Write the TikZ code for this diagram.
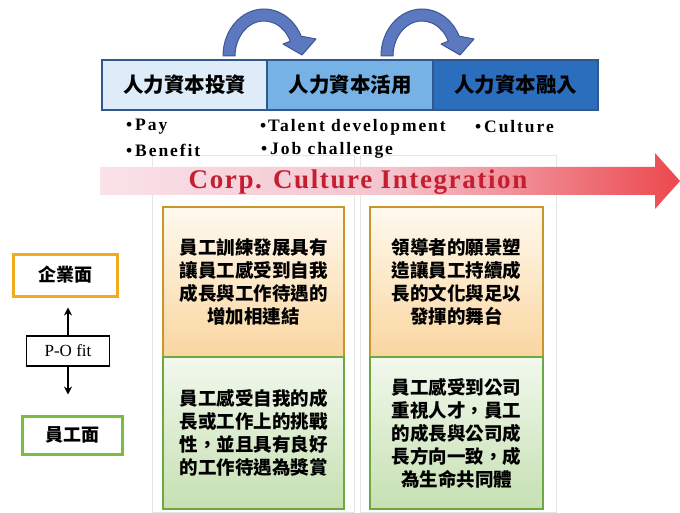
\documentclass[tikz,border=0pt]{standalone}
\usepackage{fontspec}
\setmainfont{Liberation Serif}
\newfontfamily\cjk{Noto Sans CJK TC}
\newfontfamily\bul{Liberation Serif}[LetterSpace=11]
\newfontfamily\banfont{Liberation Serif}[LetterSpace=6]
\usetikzlibrary{shadings,arrows.meta}
\definecolor{segA}{RGB}{221,236,248}
\definecolor{segB}{RGB}{118,178,230}
\definecolor{segC}{RGB}{44,110,190}
\definecolor{segLine}{RGB}{48,88,140}
\definecolor{arcFill}{RGB}{92,120,190}
\definecolor{arcLine}{RGB}{62,88,150}
\definecolor{pinkL}{RGB}{250,226,233}
\definecolor{pinkM}{RGB}{244,196,206}
\definecolor{redR}{RGB}{236,72,78}
\definecolor{bannerText}{RGB}{196,30,48}
\definecolor{oLine}{RGB}{200,150,42}
\definecolor{oTop}{RGB}{255,249,238}
\definecolor{oBot}{RGB}{250,214,160}
\definecolor{gLine}{RGB}{108,168,70}
\definecolor{gTop}{RGB}{242,248,237}
\definecolor{gBot}{RGB}{198,224,178}
\definecolor{corpLine}{RGB}{240,172,30}
\definecolor{empLine}{RGB}{120,190,60}
\tikzset{
  seg/.style={draw=segLine, line width=1.5pt, minimum height=50pt, inner sep=0pt,
    font=\cjk\bfseries\fontsize{20.5}{23}\selectfont},
  bullet/.style={anchor=west, inner sep=0pt, font=\bul\bfseries\fontsize{17.5}{20}\selectfont},
  boxtext/.style={align=center, inner sep=0pt, font=\cjk\bfseries\fontsize{18.5}{23}\selectfont},
  obox/.style={boxtext, draw=oLine, line width=2pt, top color=oTop, bottom color=oBot},
  gbox/.style={boxtext, draw=gLine, line width=2pt, top color=gTop, bottom color=gBot},
  sidebox/.style={line width=3pt, fill=white, inner sep=0pt, minimum height=42pt,
    font=\cjk\bfseries\fontsize{18}{20}\selectfont},
  arcarrow/.style={fill=arcFill, draw=arcLine, line width=1pt, line join=round},
  panel/.style={draw=black!10, line width=0.6pt},
  poarrow/.style={-{Stealth[length=8pt,width=8pt]}, line width=2pt},
}
\begin{document}
\begin{tikzpicture}[x=1pt,y=-1pt]
\useasboundingbox (0,0) rectangle (680,513);
% faint background panels
\draw[panel] (152,155) rectangle (354,512);
\draw[panel] (360,155) rectangle (556,512);
% curved arrows
\foreach \dx in {0,158}{
  \begin{scope}[xshift=\dx pt]
  \path[arcarrow] (223,56) arc[start angle=180, end angle=335, x radius=41, y radius=47]
     -- (316,39) -- (302,55) -- (283,44) -- (290.3,41.2)
     arc[start angle=335, end angle=180, x radius=29, y radius=35] -- cycle;
  \end{scope}
}
% top bar
\node[seg, fill=segA, minimum width=165pt] (s1) at (184.5,85) {人力資本投資};
\node[seg, fill=segB, minimum width=166pt] (s2) at (350,85) {人力資本活用};
\node[seg, fill=segC, minimum width=165pt] (s3) at (515.5,85) {人力資本融入};
% bullets
\node[bullet] (b1) at (126,127) {•\,Pay};
\node[bullet] (b2) at (126,150) {•\,Benefit};
\node[bullet] (b3) at (260,127) {•Talent development};
\node[bullet] (b4) at (261,150) {•\,Job challenge};
\node[bullet] (b5) at (475,127) {•\,Culture};
% banner arrow
\shade[left color=pinkL, right color=redR, middle color=pinkM]
  (100,167) -- (655,167) -- (655,153) -- (680,181) -- (655,209) -- (655,195) -- (100,195) -- cycle;
\node[text=bannerText, inner sep=0pt, font=\banfont\bfseries\fontsize{27}{30}\selectfont] (ban) at (358,182) {Corp. Culture Integration};
% content boxes
\node[obox, minimum width=181pt, minimum height=150pt] (o1) at (253.5,282)
  {員工訓練發展具有\\讓員工感受到自我\\成長與工作待遇的\\增加相連結};
\node[obox, minimum width=173pt, minimum height=150pt] (o2) at (456.5,282)
  {領導者的願景塑\\造讓員工持續成\\長的文化與足以\\發揮的舞台};
\node[gbox, minimum width=181pt, minimum height=152pt] (g1) at (253.5,433)
  {員工感受自我的成\\長或工作上的挑戰\\性，並且具有良好\\的工作待遇為獎賞};
\node[gbox, minimum width=173pt, minimum height=152pt] (g2) at (456.5,433)
  {員工感受到公司\\重視人才，員工\\的成長與公司成\\長方向一致，成\\為生命共同體};
% left side
\node[sidebox, draw=corpLine, minimum width=104pt] (corp) at (65,275) {企業面};
\node[draw=black, line width=1.5pt, minimum width=83pt, minimum height=30pt, inner sep=0pt,
  font=\fontsize{17}{19}\selectfont] (po) at (68,351) {P-O fit};
\node[sidebox, draw=empLine, minimum width=100pt, minimum height=38pt] (emp) at (72,435) {員工面};
\draw[poarrow, shorten >=10pt] (po) -- (po |- corp.south);
\draw[poarrow, shorten >=20pt] (po) -- (po |- emp.north);
\end{tikzpicture}
\end{document}
